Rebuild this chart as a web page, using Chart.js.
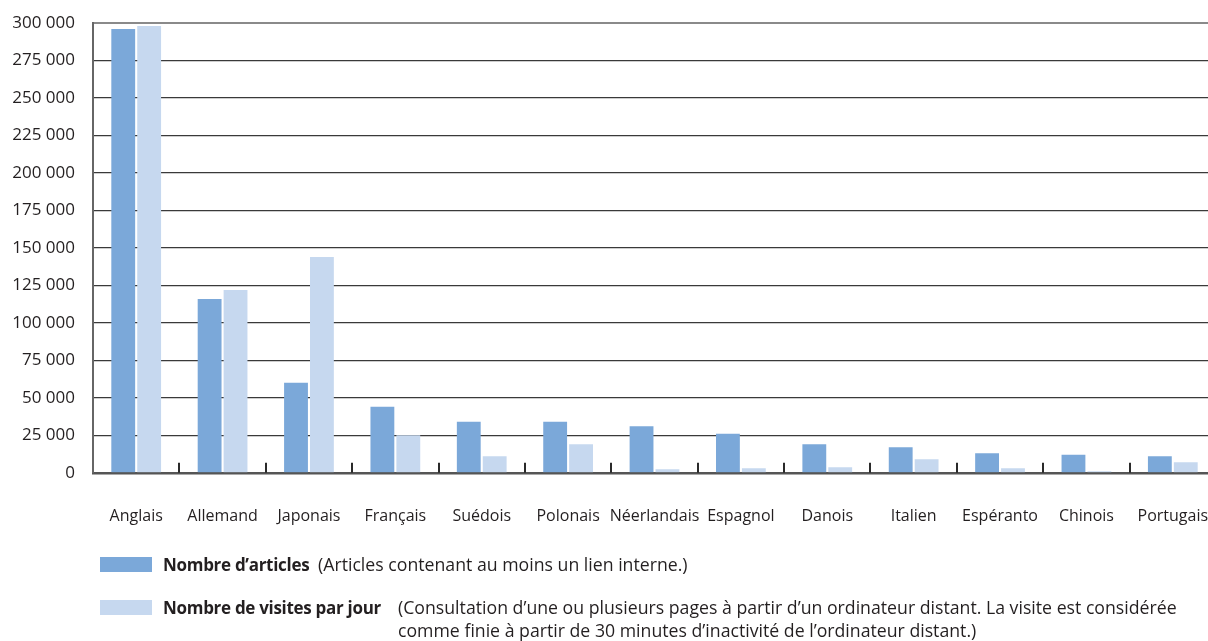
<!DOCTYPE html>
<html>
<head>
<meta charset="utf-8">
<script src="https://cdn.jsdelivr.net/npm/chart.js@4.4.1/dist/chart.umd.min.js"></script>
<style>
  body { margin: 0; background: #fff; font-family: "Open Sans", sans-serif; color: #231f20; }
  #wrap { position: relative; width: 1208px; height: 641px; overflow: hidden; }
  #chart { position: absolute; left: 0; top: 0; }
  .sw { position: absolute; width: 52px; height: 15px; }
  .lg { position: absolute; font-size: 17.7px; line-height: 23px; white-space: nowrap; }
  .lg b { font-size: 17px; font-weight: 700; letter-spacing: -0.3px; }
</style>
</head>
<body>
<div id="wrap">
  <canvas id="chart" width="1216" height="641"></canvas>
  <div class="sw" style="left:100px;top:557px;background:#7ba8d9"></div>
  <div class="lg" style="left:163px;top:553px"><b>Nombre d’articles</b></div>
  <div class="lg" style="left:318px;top:553px">(Articles contenant au moins un lien interne.)</div>
  <div class="sw" style="left:100px;top:600px;background:#c6d8ef"></div>
  <div class="lg" style="left:163px;top:596px"><b>Nombre de visites par jour</b></div>
  <div class="lg" style="left:398px;top:596px">(Consultation d’une ou plusieurs pages à partir d’un ordinateur distant. La visite est considérée<br>comme finie à partir de 30 minutes d’inactivité de l’ordinateur distant.)</div>
</div>
<script>
var langues = ["Anglais", "Allemand", "Japonais", "Français", "Suédois", "Polonais",
    "Néerlandais", "Espagnol", "Danois", "Italien", "Espéranto", "Chinois", "Portugais"];
var articles = [296000, 116000, 60000, 44000, 34000, 34000, 31000, 26000, 19000, 17000, 13000, 12000, 11000];
var visites = [298000, 122000, 144000, 25000, 11000, 19000, 2300, 3000, 3700, 9000, 3000, 1000, 7000];

function fmt(v) {
    return String(v).replace(/\B(?=(\d{3})+(?!\d))/g, " ");
}

// petites graduations entre les catégories, tournées vers l'intérieur
var innerTicks = {
    id: 'innerTicks',
    afterDraw: function(chart) {
	var x = chart.scales.x, ctx = chart.ctx, bottom = chart.chartArea.bottom;
	ctx.save();
	ctx.strokeStyle = "#2a2a2a";
	ctx.lineWidth = 2;
	for (var i = 1; i < langues.length; i++) {
	    var px = Math.round((x.getPixelForValue(i - 1) + x.getPixelForValue(i)) / 2);
	    ctx.beginPath();
	    ctx.moveTo(px, bottom - 10);
	    ctx.lineTo(px, bottom);
	    ctx.stroke();
	}
	ctx.restore();
    }
};

// le canevas déborde un peu à droite : la dernière catégorie est coupée comme dans l'original
var ctx = document.getElementById("chart").getContext("2d");
new Chart(ctx, {
    type: 'bar',
    data: {
	labels: langues,
	datasets: [{
	    label: "Nombre d’articles",
	    data: articles,
	    backgroundColor: "#7ba8d9",
	    barPercentage: 0.92,
	    categoryPercentage: 0.6
	}, {
	    label: "Nombre de visites par jour",
	    data: visites,
	    backgroundColor: "#c6d8ef",
	    barPercentage: 0.92,
	    categoryPercentage: 0.6
	}]
    },
    options: {
	responsive: false,
	animation: false,
	layout: { padding: { top: 23, right: 0, bottom: 81, left: 0 } },
	plugins: { legend: { display: false }, tooltip: { enabled: false } },
	scales: {
	    x: {
		afterFit: function(s) { s.paddingRight = 0; s.paddingLeft = 0; },
		grid: { display: false, drawTicks: false },
		border: { color: "#555", width: 2.5 },
		ticks: {
		    padding: 34,
		    color: "#231f20",
		    font: { family: "Open Sans", size: 16 },
		    maxRotation: 0,
		    autoSkip: false
		}
	    },
	    y: {
		min: 0,
		max: 300000,
		afterFit: function(s) { s.width = 93; s.paddingTop = 0; },
		grid: {
		    drawTicks: false,
		    color: function(c) { return c.tick.value === 300000 ? "#8a8a8a" : "#3a3a3a"; },
		    lineWidth: function(c) { return c.tick.value === 300000 ? 2 : 1.3; }
		},
		border: { color: "#666", width: 2 },
		ticks: {
		    stepSize: 25000,
		    padding: 18,
		    color: "#231f20",
		    font: { family: "Open Sans", size: 17 },
		    callback: function(v) { return fmt(v); }
		}
	    }
	}
    },
    plugins: [innerTicks]
});
</script>
</body>
</html>
